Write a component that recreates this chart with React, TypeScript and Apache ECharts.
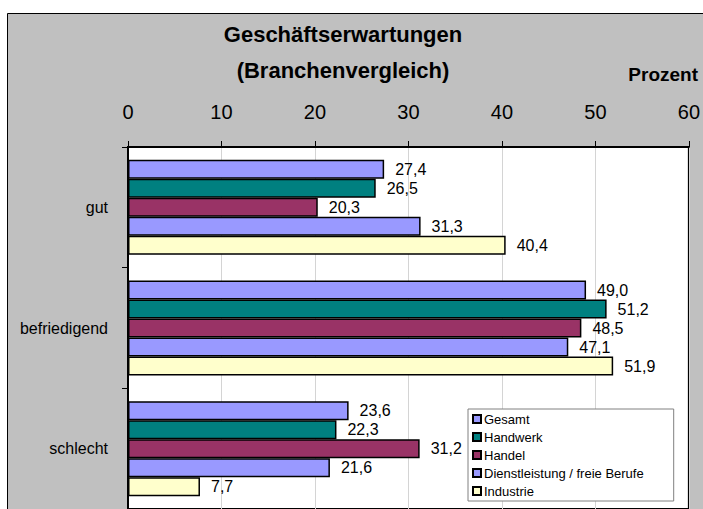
import React, { useEffect, useRef } from "react";
import * as echarts from "echarts";

const categories = ["gut", "befriedigend", "schlecht"];
const seriesNames = ["Gesamt", "Handwerk", "Handel", "Dienstleistung / freie Berufe", "Industrie"];
const gesamt = [27.4, 49.0, 23.6];
const handwerk = [26.5, 51.2, 22.3];
const handel = [20.3, 48.5, 31.2];
const dienstleistung = [31.3, 47.1, 21.6];
const industrie = [40.4, 51.9, 7.7];
const colors = ["#9999ff", "#008080", "#993366", "#9999ff", "#ffffcc"];
const xTicks = [0, 60, 10];

const FONT = "'Liberation Sans', Arial, sans-serif";

export default function App() {
  const ref = useRef<HTMLDivElement>(null);
  useEffect(() => {
    if (!ref.current) return;
    const chart = echarts.init(ref.current, undefined, { renderer: "svg" });
    const data = [gesamt, handwerk, handel, dienstleistung, industrie];
    chart.setOption({
      animation: false,
      textStyle: { fontFamily: FONT },
      graphic: [
        {
          type: "rect",
          z: -10,
          shape: { x: 7.5, y: 13.5, width: 760, height: 560 },
          style: { fill: "#c0c0c0", stroke: "#000", lineWidth: 1 },
        },
        {
          type: "text",
          x: 343,
          y: 34,
          style: {
            text: "Geschäftserwartungen",
            align: "center",
            verticalAlign: "middle",
            font: `bold 22px ${FONT}`,
            fill: "#000",
          },
        },
        {
          type: "text",
          x: 343,
          y: 70,
          style: {
            text: "(Branchenvergleich)",
            align: "center",
            verticalAlign: "middle",
            font: `bold 22px ${FONT}`,
            fill: "#000",
          },
        },
        {
          type: "text",
          x: 698,
          y: 74,
          style: {
            text: "Prozent",
            align: "right",
            verticalAlign: "middle",
            font: `bold 19px ${FONT}`,
            fill: "#000",
          },
        },
      ],
      grid: {
        left: 128,
        top: 147,
        width: 563,
        height: 363,
        show: true,
        backgroundColor: "#ffffff",
        borderColor: "#000",
        borderWidth: 2,
        containLabel: false,
      },
      legend: {
        orient: "vertical",
        left: 468,
        top: 409,
        data: seriesNames,
        backgroundColor: "#ffffff",
        borderColor: "#808080",
        borderWidth: 1,
        borderRadius: 0,
        padding: [3, 30, 3, 4],
        itemWidth: 8,
        itemHeight: 8,
        itemGap: 4,
        icon: "rect",
        textStyle: { fontSize: 13, color: "#000", lineHeight: 14, fontFamily: FONT, padding: [0, 0, 0, -2] },
      },
      xAxis: {
        type: "value",
        position: "top",
        min: xTicks[0],
        max: xTicks[1],
        interval: xTicks[2],
        axisLine: { show: true, lineStyle: { color: "#000", width: 2 } },
        axisTick: { show: true, inside: false, length: 6, lineStyle: { color: "#000" } },
        axisLabel: { fontSize: 20, color: "#000", margin: 25, fontFamily: FONT },
        splitLine: { show: true, lineStyle: { color: "#d4d4d4", width: 1 } },
      },
      yAxis: {
        type: "category",
        inverse: true,
        data: categories,
        axisLine: { show: true, lineStyle: { color: "#000", width: 1 } },
        axisTick: { show: true, inside: false, length: 6, lineStyle: { color: "#000" } },
        axisLabel: { fontSize: 16, color: "#000", margin: 20, fontFamily: FONT },
      },
      series: seriesNames.map((name, i) => ({
        name,
        type: "bar",
        data: data[i],
        barWidth: 19,
        barGap: "0%",
        itemStyle: { color: colors[i], borderColor: "#000", borderWidth: 1.5 },
        label: {
          show: true,
          position: "right",
          distance: 11,
          fontSize: 16,
          color: "#000",
          fontFamily: FONT,
          formatter: (p: any) => p.value.toFixed(1).replace(".", ","),
        },
      })),
    });
    return () => chart.dispose();
  }, []);
  return (
    <div
      ref={ref}
      style={{ position: "absolute", left: 0, top: 0, width: 703, height: 509, background: "#fff" }}
    />
  );
}
